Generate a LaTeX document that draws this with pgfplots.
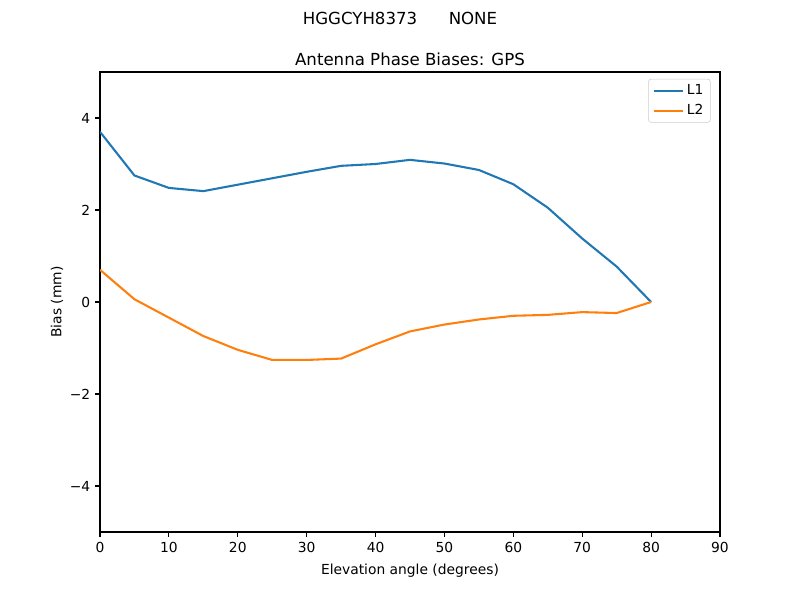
\documentclass[border=0pt]{standalone}
\usepackage{fontspec}
\setmainfont{DejaVu Sans}
\usepackage{pgfplots}
\pgfplotsset{compat=1.18}
\definecolor{tabblue}{HTML}{1F77B4}
\definecolor{taborange}{HTML}{FF7F0E}
\begin{document}
\begin{tikzpicture}
\path[use as bounding box] (0,0) rectangle (8in,6in);
\node[anchor=base,font=\fontsize{12}{14}\selectfont] at (4in,5.75in) {HGGCYH8373\hspace{1.9em}NONE};
\begin{axis}[
  at={(1in,0.68in)}, anchor=south west,
  scale only axis, width=6.2in, height=4.6in,
  xmin=0, xmax=90, ymin=-5, ymax=5,
  xtick={0,10,...,90},
  ytick={-4,-2,0,2,4},
  yticklabels={−4,−2,0,2,4},
  /pgf/number format/assume math mode=true,
  tick align=outside, major tick length=3.5pt,
  tick style={black, line width=0.8pt},
  xtick pos=bottom, ytick pos=left,
  axis line style={line width=0.8pt},
  ticklabel style={font=\fontsize{10}{12}\selectfont},
  label style={font=\fontsize{10}{12}\selectfont},
  xlabel={Elevation angle (degrees)},
  ylabel={Bias (mm)},
  xlabel style={yshift=-2pt},
  ylabel style={yshift=-2pt},
  title={Antenna Phase Biases: GPS},
  title style={font=\fontsize{12}{14}\selectfont, at={(0.5,1)}, anchor=south, yshift=-5pt},
  legend style={at={(0.985,0.985)}, anchor=north east, draw=black!20, rounded corners=2pt, font=\fontsize{10}{12}\selectfont, row sep=1.5pt},
  legend cell align=left,
  legend image code/.code={\draw[#1] (0cm,0cm) -- (0.75cm,0cm);},
]
\addplot[tabblue, line width=1.5pt] coordinates {
(0,3.70) (5,2.75) (10,2.48) (15,2.41) (20,2.55) (25,2.69) (30,2.83) (35,2.96) (40,3.00) (45,3.09) (50,3.01) (55,2.87) (60,2.56) (65,2.05) (70,1.38) (75,0.77) (80,0.00)};
\addlegendentry{L1}
\addplot[taborange, line width=1.5pt] coordinates {
(0,0.70) (5,0.06) (10,-0.34) (15,-0.74) (20,-1.04) (25,-1.26) (30,-1.26) (35,-1.23) (40,-0.92) (45,-0.64) (50,-0.49) (55,-0.38) (60,-0.30) (65,-0.28) (70,-0.22) (75,-0.24) (80,0.00)};
\addlegendentry{L2}
\end{axis}
\end{tikzpicture}
\end{document}
